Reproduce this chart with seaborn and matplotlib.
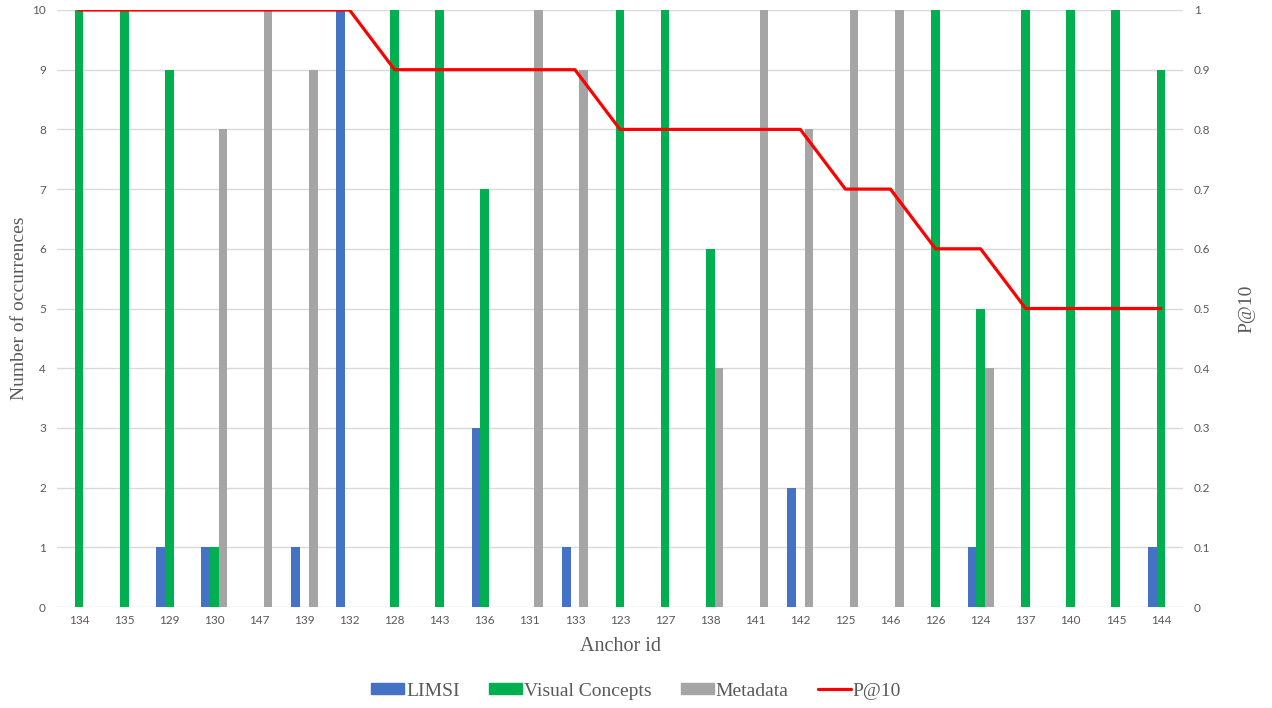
import numpy as np
import pandas as pd
import matplotlib
matplotlib.use("Agg")
import matplotlib.pyplot as plt
import seaborn as sns
from matplotlib.patches import Patch
from matplotlib.lines import Line2D

anchors = ["134", "135", "129", "130", "147", "139", "132", "128", "143", "136",
           "131", "133", "123", "127", "138", "141", "142", "125", "146", "126",
           "124", "137", "140", "145", "144"]
limsi = [0, 0, 1, 1, 0, 1, 10, 0, 0, 3, 0, 1, 0, 0, 0, 0, 2, 0, 0, 0, 1, 0, 0, 0, 1]
visual = [10, 10, 9, 1, 0, 0, 0, 10, 10, 7, 0, 0, 10, 10, 6, 0, 0, 0, 0, 10, 5, 10, 10, 10, 9]
metadata = [0, 0, 0, 8, 10, 9, 0, 0, 0, 0, 10, 9, 0, 0, 4, 10, 8, 10, 10, 0, 4, 0, 0, 0, 0]
p10 = [1, 1, 1, 1, 1, 1, 1, 0.9, 0.9, 0.9, 0.9, 0.9, 0.8, 0.8, 0.8, 0.8, 0.8,
       0.7, 0.7, 0.6, 0.6, 0.5, 0.5, 0.5, 0.5]
series = ["LIMSI", "Visual Concepts", "Metadata"]
colors = ["#4472C4", "#00B050", "#A5A5A5"]

df = pd.DataFrame({
    "anchor": anchors * 3,
    "series": [series[0]] * len(anchors) + [series[1]] * len(anchors) + [series[2]] * len(anchors),
    "value": limsi + visual + metadata,
})

sns.set_theme(style="white")
fig = plt.figure(figsize=(12.72, 7.08), dpi=100)
ax = fig.add_axes([57 / 1272, 1 - 607 / 708, (1183 - 57) / 1272, (607 - 10) / 708])

sns.barplot(data=df, x="anchor", y="value", hue="series", order=anchors,
            hue_order=series, palette=colors, width=0.58, gap=0,
            saturation=1, ax=ax, legend=False, zorder=2, linewidth=0)

ax.set_ylim(0, 10)
ax.set_xlim(-0.49, len(anchors) - 0.51)
ax.set_yticks(range(0, 11))
ax.grid(axis="y", color="#D9D9D9", lw=1, zorder=0)
ax.set_axisbelow(True)
for s in ax.spines.values():
    s.set_visible(False)
ax.tick_params(axis="x", length=0, labelsize=8.5, labelcolor="#595959", pad=6)
ax.tick_params(axis="y", length=0, labelsize=8.5, labelcolor="#595959", pad=8)
for lab in ax.get_xticklabels() + ax.get_yticklabels():
    lab.set_family("Lato")
ax.set_xlabel("Anchor id", family="Liberation Serif", fontsize=14.5, color="#595959")
ax.xaxis.set_label_coords(0.5, -(637 - 607) / 597, transform=ax.transAxes)
ax.set_ylabel("Number of occurrences", family="Liberation Serif", fontsize=14, color="#595959")
ax.yaxis.set_label_coords((28 - 57) / 1126, 0.5)

ax2 = ax.twinx()
sns.lineplot(x=np.arange(len(anchors)), y=p10, ax=ax2, color="#FF0000", lw=2.3, zorder=3)
ax2.set_ylim(0, 1)
ax2.set_yticks(np.linspace(0, 1, 11))
ax2.set_yticklabels(["0"] + [f"{v:.1f}" for v in np.linspace(0.1, 0.9, 9)] + ["1"])
for s in ax2.spines.values():
    s.set_visible(False)
ax2.tick_params(axis="y", length=0, labelsize=8.5, labelcolor="#595959", pad=8)
for lab in ax2.get_yticklabels():
    lab.set_family("Lato")
ax2.set_ylabel("P@10", family="Liberation Serif", fontsize=14, color="#595959")
ax2.yaxis.set_label_coords((1238 - 57) / 1126, 0.5)
ax2.set_xlim(ax.get_xlim())

handles = [Patch(color=c) for c in colors] + [Line2D([0], [0], color="#FF0000", lw=2.3)]
labels = series + ["P@10"]
leg = fig.legend(handles, labels, loc="center", bbox_to_anchor=(0.5, 1 - 691 / 708),
                 ncol=4, frameon=False, prop={"family": "Liberation Serif", "size": 14},
                 handlelength=1.7, handleheight=0.45, handletextpad=0.1, columnspacing=1.5)
for t in leg.get_texts():
    t.set_color("#595959")

fig.savefig("out.png", dpi=100)
